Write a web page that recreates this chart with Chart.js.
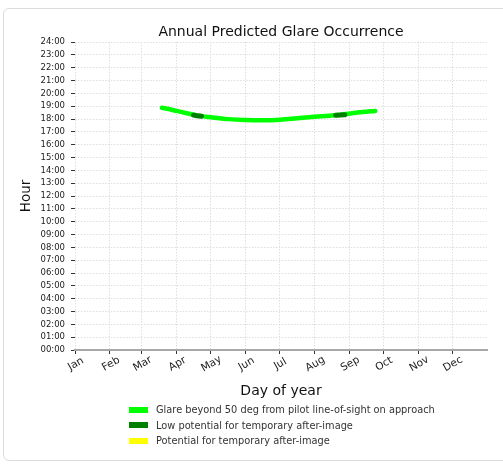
<!DOCTYPE html>
<html>
<head>
<meta charset="utf-8">
<script src="https://cdn.jsdelivr.net/npm/chart.js@4/dist/chart.umd.min.js"></script>
<style>
  html, body { margin: 0; padding: 0; background: #fff; width: 503px; height: 464px; overflow: hidden; }
  .card { position: absolute; left: 3px; top: 8px; width: 530px; height: 453px; border: 1.5px solid #dcdcdc; border-radius: 6px; box-sizing: border-box; }
  .wrap { position: absolute; left: 0; top: 0; width: 503px; height: 464px; }
  #legend { position: absolute; left: 129px; top: 402px; font-family: "DejaVu Sans", sans-serif; font-size: 9.8px; color: #333; }
  #legend .row { display: flex; align-items: center; height: 15.5px; }
  #legend .box { width: 19px; height: 6px; margin-right: 8px; }
</style>
</head>
<body>
<div class="card"></div>
<div class="wrap"><canvas id="c" width="503" height="464"></canvas></div>
<div id="legend"></div>
<script>
// ---- data ----
const monthLabels = ["Jan","Feb","Mar","Apr","May","Jun","Jul","Aug","Sep","Oct","Nov","Dec"];
const monthStartDays = [0,31,59,90,120,151,181,212,243,273,304,334];
const hourTicks = [0,1,2,3,4,5,6,7,8,9,10,11,12,13,14,15,16,17,18,19,20,21,22,23,24];

// Glare beyond 50 deg (day of year, hour)
const glareDays  = [77, 84, 90, 100, 108, 121, 136, 151, 168, 182, 197, 212, 226, 235, 244, 255, 266];
const glareHours = [18.88, 18.76, 18.63, 18.43, 18.28, 18.13, 17.99, 17.92, 17.90, 17.95, 18.06, 18.17, 18.26, 18.33, 18.43, 18.54, 18.63];

// Low potential for temporary after-image
const lowDays  = [105, 108, 112, null, 231, 235, 239];
const lowHours = [18.30, 18.26, 18.22, null, 18.29, 18.31, 18.34];

// Potential for temporary after-image (none)
const potDays = [];
const potHours = [];

const seriesLabels = [
  "Glare beyond 50 deg from pilot line-of-sight on approach",
  "Low potential for temporary after-image",
  "Potential for temporary after-image"
];
const seriesColors = ["#00ff00", "#008000", "#ffff00"];

function pts(xs, ys) { return xs.map((d, i) => (d === null ? {x: null, y: null} : {x: d, y: ys[i]})); }

const FONT = "DejaVu Sans";

const monthLabelPlugin = {
  id: 'monthLabels',
  afterDraw(chart) {
    const xs = chart.scales.x;
    const ctx = chart.ctx;
    ctx.save();
    ctx.fillStyle = '#222';
    ctx.font = '10.5px "' + FONT + '"';
    ctx.textAlign = 'center';
    ctx.textBaseline = 'middle';
    monthStartDays.forEach((d, i) => {
      const x = xs.getPixelForValue(d);
      ctx.save();
      ctx.translate(x + 1, 364);
      ctx.rotate(-Math.PI / 6);
      ctx.fillText(monthLabels[i], 0, 0);
      ctx.restore();
    });
    ctx.restore();
  }
};

const chart = new Chart(document.getElementById('c'), {
  type: 'line',
  data: {
    datasets: [
      { label: seriesLabels[0], data: pts(glareDays, glareHours), borderColor: seriesColors[0], backgroundColor: seriesColors[0],
        borderWidth: 4.5, pointRadius: 0, tension: 0.4, cubicInterpolationMode: 'monotone', borderCapStyle: 'round', order: 3 },
      { label: seriesLabels[1], data: pts(lowDays, lowHours), borderColor: seriesColors[1], backgroundColor: seriesColors[1],
        borderWidth: 5, pointRadius: 0, tension: 0, spanGaps: false, borderCapStyle: 'round', order: 1 },
      { label: seriesLabels[2], data: pts(potDays, potHours), borderColor: seriesColors[2], backgroundColor: seriesColors[2],
        borderWidth: 5, pointRadius: 0, order: 2 }
    ]
  },
  options: {
    responsive: false,
    animation: false,
    devicePixelRatio: 1,
    layout: { padding: { left: 0, right: 16, top: 0, bottom: 0 } },
    plugins: {
      legend: { display: false },
      tooltip: { enabled: false },
      title: {
        display: true, text: 'Annual Predicted Glare Occurrence', fullSize: false,
        color: '#111', font: { family: FONT, size: 14, weight: 'normal' },
        padding: { top: 23.6, bottom: 1.6 }
      }
    },
    scales: {
      x: {
        type: 'linear', min: 0, max: 365,
        afterBuildTicks(s) { s.ticks = monthStartDays.map(v => ({ value: v })); },
        afterFit(s) { s.height = 114; },
        ticks: { display: false },
        grid: { color: '#dedede', lineWidth: 1, drawTicks: true, tickLength: 4, tickColor: '#333', tickWidth: 1 },
        border: { display: true, color: '#a8a8a8', width: 2, dash: [1.5, 1.5] },
        title: { display: true, text: 'Day of year', color: '#111', font: { family: FONT, size: 14 }, padding: { top: 0, bottom: 64.6 } }
      },
      y: {
        type: 'linear', min: 0, max: 24,
        afterBuildTicks(s) { s.ticks = hourTicks.map(v => ({ value: v })); },
        afterFit(s) { s.width = 75; },
        ticks: {
          color: '#222', font: { family: FONT, size: 8.5 }, padding: 6, autoSkip: false,
          callback: (v) => String(v).padStart(2, '0') + ':00'
        },
        grid: { color: '#dedede', lineWidth: 1, drawTicks: true, tickLength: 4, tickColor: '#333', tickWidth: 1 },
        border: { display: false, dash: [1.5, 1.5] },
        title: { display: true, text: 'Hour', color: '#111', font: { family: FONT, size: 13.5 }, padding: { top: 18, bottom: 0 } }
      }
    }
  },
  plugins: [monthLabelPlugin]
});

// HTML legend built from the dataset labels/colours
const legendEl = document.getElementById('legend');
seriesLabels.forEach((lab, i) => {
  const row = document.createElement('div'); row.className = 'row';
  const box = document.createElement('span'); box.className = 'box'; box.style.background = seriesColors[i];
  const txt = document.createElement('span'); txt.textContent = lab;
  row.appendChild(box); row.appendChild(txt); legendEl.appendChild(row);
});
</script>
</body>
</html>
